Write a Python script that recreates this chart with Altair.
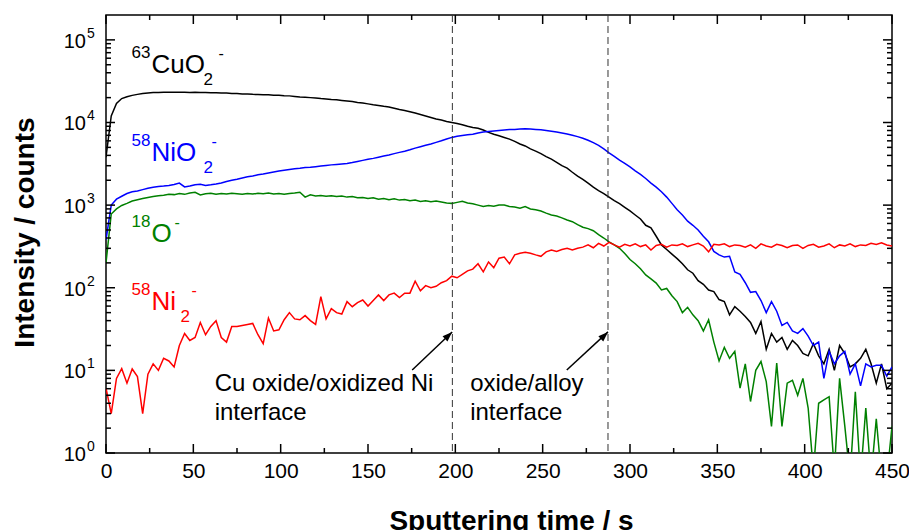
import altair as alt
import pandas as pd

FONT = "Liberation Sans"

# ---------------- data ----------------
time_s = list(range(0, 451, 3))

cuo2 = [3800, 12000, 17000, 19500, 20500, 21300, 21900, 22400, 22800, 23000,
        23100, 23200, 23200, 23300, 23200, 23300, 23100, 23200, 23000, 23100,
        22900, 22900, 22800, 22700, 22500, 22400, 22200, 22100, 21900, 21800,
        21700, 21600, 21400, 21300, 21100, 21000, 20700, 20400, 20200, 20000,
        19800, 19500, 19300, 19000, 18800, 18500, 18200, 17900, 17500, 17200,
        16800, 16400, 16100, 15700, 15400, 14900, 14400, 14000, 13500, 13000,
        12500, 12000, 11500, 11000, 10700, 10300, 10000, 9700, 9400, 9000,
        8700, 8500, 8100, 7600, 7200, 6900, 6600, 6300, 5900, 5500,
        5200, 4800, 4500, 4200, 3870, 3600, 3300, 3000, 2800, 2500,
        2250, 2050, 1850, 1650, 1500, 1380, 1250, 1130, 1040, 940,
        850, 760, 680, 570, 530, 420, 330, 290, 255, 225,
        195, 165, 150, 122, 110, 94, 90, 72, 68, 47,
        59, 52, 45, 38, 28, 39, 18, 28, 22, 25,
        18, 23, 20, 16, 15, 21, 15, 12, 18, 10,
        20, 16, 11, 12, 14, 18, 12, 7, 12, 6,
        7]

nio2 = [380, 1000, 1180, 1280, 1380, 1450, 1480, 1540, 1600, 1650,
        1680, 1700, 1730, 1780, 1850, 1660, 1700, 1760, 1790, 1730,
        1760, 1800, 1850, 1930, 2000, 2060, 2130, 2200, 2250, 2330,
        2380, 2450, 2520, 2580, 2640, 2700, 2760, 2800, 2850, 2880,
        2920, 2970, 3020, 3070, 3110, 3150, 3200, 3280, 3380, 3480,
        3580, 3680, 3800, 3920, 4050, 4200, 4350, 4500, 4680, 4900,
        5100, 5300, 5500, 5750, 6000, 6300, 6600, 6800, 6950, 7100,
        7200, 7450, 7650, 7800, 7900, 8000, 8100, 8200, 8250, 8350,
        8400, 8350, 8250, 8150, 8000, 7850, 7650, 7450, 7250, 7000,
        6750, 6450, 6100, 5700, 5300, 4800, 4300, 3900, 3500, 3200,
        2900, 2600, 2350, 2100, 1850, 1650, 1450, 1250, 1050, 880,
        760, 640, 570, 500, 420, 360, 275, 250, 235, 240,
        155, 145, 115, 88, 90, 70, 50, 68, 52, 35,
        38, 30, 28, 32, 26, 20, 22, 8, 17, 12,
        15, 17, 9, 12, 6.5, 12, 11, 11.5, 11.5, 8.5,
        11]

o18 = [200, 780, 900, 990, 1050, 1120, 1160, 1200, 1240, 1270,
       1300, 1320, 1350, 1340, 1380, 1350, 1400, 1430, 1330, 1370,
       1390, 1350, 1380, 1360, 1390, 1370, 1350, 1380, 1360, 1390,
       1370, 1400, 1360, 1380, 1350, 1380, 1400, 1430, 1250, 1330,
       1290, 1310, 1280, 1300, 1270, 1290, 1250, 1270, 1230, 1240,
       1200, 1230, 1180, 1200, 1160, 1190, 1150, 1170, 1130, 1150,
       1110, 1130, 1100, 1120, 1090, 1060, 1050, 1080, 1110, 1060,
       1040, 1000, 960, 990, 970, 1000, 1000, 960, 950, 920,
       960, 900, 880, 850, 800, 760, 740, 700, 660, 630,
       580, 540, 520, 490, 440, 400, 360, 330, 300, 260,
       220, 195, 170, 143, 128, 114, 94, 98, 80, 68,
       50, 58, 47, 40, 30, 41, 22, 13, 19, 14,
       17, 6.1, 12, 4.2, 10, 12.8, 7.3, 2.1, 12.3, 2.1,
       7, 7.6, 5, 8, 3.5, 0.6, 4, 4.4, 4.8, 0.6,
       8, 2.1, 0.5, 5.5, 0.5, 3.5, 0.5, 2.6, 0.5, 0.5,
       2.1]

ni2 = [6.1, 3.0, 8, 10.5, 7, 10.4, 8.4, 3.0, 9, 12,
       10, 14, 13, 11, 20, 28, 23, 25, 38, 27,
       34, 40, 25, 22, 34, 34, 35, 36, 37, 27,
       21, 43, 30, 31, 41, 50, 42, 41, 46, 40,
       36, 78, 42, 56, 50, 48, 68, 59, 66, 71,
       60, 70, 82, 70, 82, 86, 76, 86, 86, 120,
       92, 106, 100, 104, 115, 122, 138, 132, 145, 160,
       168, 195, 156, 205, 175, 228, 235, 195, 250, 262,
       268, 262, 250, 240, 272, 286, 275, 290, 300, 286,
       300, 310, 330, 305, 345, 320, 355, 330, 310, 335,
       320, 340, 315, 330, 286, 325, 335, 310, 330, 325,
       340, 315, 330, 345, 320, 272, 335, 330, 340, 315,
       330, 325, 310, 330, 300, 340, 320, 310, 335, 325,
       305, 325, 330, 300, 325, 335, 310, 320, 340, 305,
       330, 320, 340, 315, 330, 325, 345, 335, 350, 330,
       320]

series_names = ["CuO2", "NiO2", "O", "Ni2"]
series_colors = ["#000000", "#0000ff", "#008000", "#ff0000"]

# species labels (mass number, species, subscript, charge) and anchor
label_mass = ["63", "58", "18", "58"]
label_species = ["CuO", "NiO", "O", "Ni"]
label_sub = ["2", "2", "", "2"]
label_charge = ["-", "-", "-", "-"]
label_t = [26.0, 26.0, 26.0, 26.0]
label_v = [39800, 3430, 358, 53.9]

interfaces = [198.3, 287.4]
arrow_tail_t = [175.3, 263.8]
arrow_tail_v = [10.1, 10.1]
arrow_head_t = [198.2, 287.4]
arrow_head_v = [29.2, 29.2]
note_text = ["Cu oxide/oxidized Ni\ninterface", "oxide/alloy\ninterface"]
note_t = [62.2, 208.5]
note_v = [5.63, 5.63]

x_major = list(range(0, 451, 50))
x_minor = list(range(25, 450, 50))
y_major = [1, 10, 100, 1000, 10000, 100000]
y_minor = [m * d for d in y_major for m in range(2, 10) if m * d < 200000]

# ---------------- chart ----------------
W, H = 786, 438

df = pd.concat([
    pd.DataFrame({"t": time_s, "v": vals, "series": name})
    for name, vals in zip(series_names, [cuo2, nio2, o18, ni2])
], ignore_index=True)

x_enc = alt.X("t:Q",
              scale=alt.Scale(domain=[0, 450], nice=False, zero=False),
              axis=alt.Axis(values=x_major, format="d", labelFont=FONT, labelFontSize=21,
                            labelColor="black", labelPadding=7, labelFlush=False,
                            labelOverlap=False, ticks=False, domain=False, grid=False,
                            title="Sputtering time / s", titleFont=FONT, titleFontSize=28,
                            titleFontWeight="bold", titleColor="black", titleX=405,
                            titleY=76, titleAlign="center", titleBaseline="alphabetic"))
y_enc = alt.Y("v:Q",
              scale=alt.Scale(type="log", domain=[1, 200000], nice=False),
              axis=alt.Axis(labels=False, ticks=False, domain=False, grid=False,
                            title="Intensity / counts", titleFont=FONT, titleFontSize=28,
                            titleFontWeight="bold", titleColor="black", titleAngle=270,
                            titleX=-73, titleY=217, titleAlign="center",
                            titleBaseline="alphabetic"))

lines = alt.Chart(df).mark_line(strokeWidth=1.5, clip=True).encode(
    x=x_enc, y=y_enc,
    color=alt.Color("series:N", scale=alt.Scale(domain=series_names, range=series_colors),
                    legend=None),
)

dashed = alt.Chart(pd.DataFrame({"t": interfaces})).mark_rule(
    color="#333333", strokeDash=[7, 4], strokeWidth=1).encode(x="t:Q")

# inward ticks
ymaj = pd.DataFrame({"v": y_major})
ymin = pd.DataFrame({"v": y_minor})
xmaj = pd.DataFrame({"t": x_major})
xmin = pd.DataFrame({"t": x_minor})
tick_style = dict(color="black", strokeWidth=1.5)
ticks = [
    alt.Chart(ymaj).mark_rule(**tick_style).encode(y="v:Q", x=alt.value(0), x2=alt.value(9)),
    alt.Chart(ymaj).mark_rule(**tick_style).encode(y="v:Q", x=alt.value(W), x2=alt.value(W - 9)),
    alt.Chart(ymin).mark_rule(**tick_style).encode(y="v:Q", x=alt.value(0), x2=alt.value(5)),
    alt.Chart(ymin).mark_rule(**tick_style).encode(y="v:Q", x=alt.value(W), x2=alt.value(W - 5)),
    alt.Chart(xmaj).mark_rule(**tick_style).encode(x="t:Q", y=alt.value(H), y2=alt.value(H - 9)),
    alt.Chart(xmaj).mark_rule(**tick_style).encode(x="t:Q", y=alt.value(0), y2=alt.value(9)),
    alt.Chart(xmin).mark_rule(**tick_style).encode(x="t:Q", y=alt.value(H), y2=alt.value(H - 5)),
    alt.Chart(xmin).mark_rule(**tick_style).encode(x="t:Q", y=alt.value(0), y2=alt.value(5)),
]

# y tick labels 10^n
ylab_base = alt.Chart(ymaj).mark_text(
    align="right", baseline="alphabetic", dx=-20, dy=8, fontSize=20, font=FONT, color="black"
).encode(y="v:Q", x=alt.value(0), text=alt.value("10"))
ylab_exp = alt.Chart(ymaj).transform_calculate(
    e="format(round(log(datum.v) / LN10), 'd')"
).mark_text(
    align="left", baseline="alphabetic", dx=-19, dy=-2, fontSize=14, font=FONT, color="black"
).encode(y="v:Q", x=alt.value(0), text="e:N")

# arrows
arrows_df = pd.DataFrame({"t": arrow_tail_t, "v": arrow_tail_v,
                          "t2": arrow_head_t, "v2": arrow_head_v})
arrow_lines = alt.Chart(arrows_df).mark_rule(color="black", strokeWidth=1.5).encode(
    x="t:Q", y="v:Q", x2="t2:Q", y2="v2:Q")
arrow_heads = alt.Chart(arrows_df).mark_point(
    shape="M0,0L-0.7,2L0.7,2Z", filled=True, color="black", opacity=1,
    size=100, angle=46, strokeWidth=0
).encode(x="t2:Q", y="v2:Q")

notes = alt.Chart(pd.DataFrame({"t": note_t, "v": note_v, "label": note_text})).mark_text(
    align="left", baseline="alphabetic", fontSize=24, lineHeight=29, lineBreak="\n",
    font=FONT, color="black"
).encode(x="t:Q", y="v:Q", text="label:N")

# species labels with super/subscripts
SUB_DX = [52, 52, 0, 29]
CHG_DX = [67, 60, 23, 40]
label_layers = []
for i in range(4):
    base = alt.Chart(pd.DataFrame({"t": [label_t[i]], "v": [label_v[i]]})).encode(
        x="t:Q", y="v:Q")
    col = series_colors[i]
    label_layers.append(base.mark_text(align="right", baseline="alphabetic", dx=-1, dy=-15,
                                       fontSize=17, font=FONT, color=col)
                        .encode(text=alt.value(label_mass[i])))
    label_layers.append(base.mark_text(align="left", baseline="alphabetic",
                                       fontSize=26, font=FONT, color=col)
                        .encode(text=alt.value(label_species[i])))
    if label_sub[i]:
        label_layers.append(base.mark_text(align="left", baseline="alphabetic",
                                           dx=SUB_DX[i], dy=12, fontSize=17, font=FONT,
                                           color=col)
                            .encode(text=alt.value(label_sub[i])))
    label_layers.append(base.mark_text(align="left", baseline="alphabetic",
                                       dx=CHG_DX[i], dy=-14, fontSize=16, font=FONT,
                                       color=col)
                        .encode(text=alt.value(label_charge[i])))

chart = alt.layer(
    lines, dashed, *ticks, ylab_base, ylab_exp, arrow_lines, arrow_heads, notes,
    *label_layers
).properties(
    width=W, height=H,
    autosize=alt.AutoSizeParams(type="none"),
    padding={"left": 98, "top": 7, "right": 17, "bottom": 77},
    background="white",
).configure_view(stroke="black", strokeWidth=1.5)

chart.save("out.html", embed_options={"renderer": "svg", "actions": False})
